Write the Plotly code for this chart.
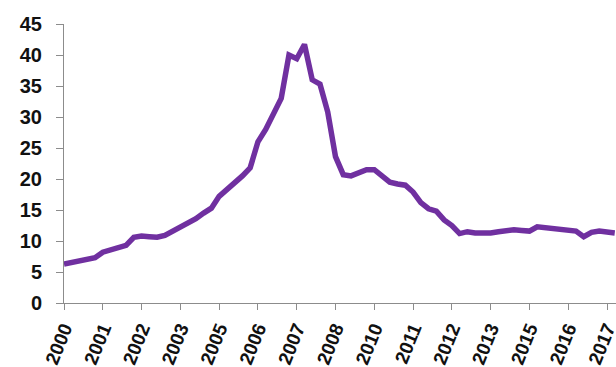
import plotly.graph_objects as go

# Quarterly series, 2000 Q1 through 2017 Q4
quarters = [f"{y}Q{q}" for y in range(2000, 2018) for q in range(1, 5)]
values = [
    6.3, 6.5, 6.7, 7.0,      # 2000
    7.3, 8.2, 8.6, 8.8,      # 2001
    9.3, 10.6, 10.8, 10.7,   # 2002
    10.6, 10.9, 11.6, 12.1,  # 2003
    12.8, 13.6, 14.5, 15.3,  # 2004
    17.2, 18.3, 19.3, 20.5,  # 2005
    21.8, 26.0, 28.0, 30.3,  # 2006
    33.0, 40.0, 39.4, 41.7,  # 2007
    36.0, 35.3, 30.8, 23.6,  # 2008
    20.7, 20.5, 21.0, 21.5,  # 2009
    21.5, 20.5, 19.5, 19.2,  # 2010
    19.0, 17.9, 16.2, 15.2,  # 2011
    14.8, 13.4, 12.5, 11.2,  # 2012
    11.5, 11.3, 11.2, 11.3,  # 2013
    11.5, 11.7, 11.8, 11.7,  # 2014
    11.6, 12.3, 12.2, 12.0,  # 2015
    11.9, 11.8, 11.6, 10.7,  # 2016
    11.4, 11.6, 11.5, 11.3,  # 2017
]

# Category labels every fifth quarter, shown as the year only
tick_step = 5
tick_idx = list(range(0, len(quarters), tick_step))
tick_text = [quarters[i][:4] for i in tick_idx]

y_ticks = list(range(0, 50, 5))

x_idx = list(range(len(quarters)))

fig = go.Figure(
    go.Scatter(
        x=x_idx,
        y=values,
        mode="lines",
        line=dict(color="#7030A0", width=5.5),
        hovertext=quarters,
    )
)

axis_grey = "#8c8c8c"
label_font = dict(family="Liberation Sans, Arial, sans-serif", color="#111111", weight=700)

fig.update_layout(
    width=616,
    height=367,
    margin=dict(l=64, r=0, t=24, b=64),
    paper_bgcolor="white",
    plot_bgcolor="white",
    showlegend=False,
    xaxis=dict(
        range=[0, 71.16],
        automargin=False,
        tickmode="array",
        tickvals=tick_idx,
        ticktext=tick_text,
        tickangle=-68,
        ticks="outside",
        ticklen=6,
        tickcolor=axis_grey,
        showline=True,
        linecolor=axis_grey,
        linewidth=1,
        showgrid=False,
        zeroline=False,
        ticklabeloverflow="allow",
        tickfont=dict(size=19, **label_font),
    ),
    yaxis=dict(
        range=[0, 45],
        automargin=False,
        tickmode="array",
        tickvals=y_ticks,
        ticks="outside",
        ticklen=7,
        tickcolor=axis_grey,
        showline=True,
        linecolor=axis_grey,
        linewidth=1,
        showgrid=False,
        zeroline=False,
        tickfont=dict(size=20, **label_font),
        ticklabelstandoff=10,
    ),
)

fig.write_html("out.html")
